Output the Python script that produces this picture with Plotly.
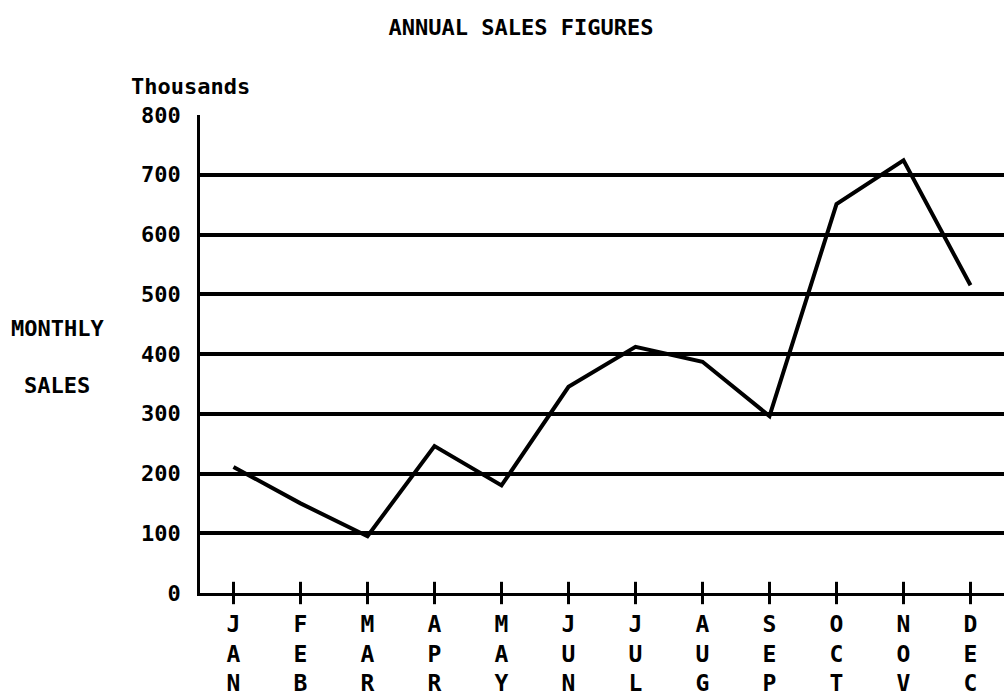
import plotly.graph_objects as go

months = ["JAN", "FEB", "MAR", "APR", "MAY", "JUN", "JUL", "AUG", "SEP", "OCT", "NOV", "DEC"]
sales = [211, 150, 95, 246, 180, 345, 412, 387, 296, 651, 724, 515]
baseline = [0] * len(months)
y_ticks = [0, 100, 200, 300, 400, 500, 600, 700, 800]

month_labels = ["<br>".join(list(m)) for m in months]
FONT = "DejaVu Sans Mono, Liberation Mono, monospace"

fig = go.Figure()
fig.add_trace(go.Scatter(
    x=list(range(len(months))), y=sales, mode="lines",
    line=dict(color="black", width=4), showlegend=False, hoverinfo="skip"))
fig.add_trace(go.Scatter(
    x=list(range(len(months))), y=baseline, mode="markers",
    marker=dict(symbol="line-ns", size=16, line=dict(color="black", width=3)),
    cliponaxis=False, showlegend=False, hoverinfo="skip"))

fig.update_layout(
    width=1004, height=695,
    margin=dict(l=200, r=0, t=115, b=102),
    paper_bgcolor="white", plot_bgcolor="white",
    font=dict(family=FONT, size=22, color="black", weight=700),
    title=dict(text="ANNUAL SALES FIGURES", x=521 / 1004, xanchor="center",
               y=1 - 27 / 695, yanchor="middle", xref="container", yref="container",
               font=dict(family=FONT, size=22, color="black", weight=700)),
    xaxis=dict(
        range=[-0.5, 11.5], tickmode="array", tickvals=list(range(len(months))),
        ticktext=month_labels, showgrid=False, zeroline=False,
        showline=True, linecolor="black", linewidth=3,
        ticks="outside", ticklen=8, tickwidth=3, tickcolor="black",
        tickfont=dict(family=FONT, size=23, weight=700), tickangle=0, fixedrange=True),
    yaxis=dict(
        range=[0, 800], tickmode="array", tickvals=y_ticks,
        ticktext=[str(v) for v in y_ticks],
        showgrid=True, gridcolor="black", gridwidth=3.5, zeroline=False,
        showline=True, linecolor="black", linewidth=2.5,
        ticks="", ticklabelstandoff=12,
        tickfont=dict(family=FONT, size=22, weight=700), fixedrange=True),
    annotations=[
        dict(text="Thousands", xref="paper", yref="paper", x=-10 / 804, y=1 + 28 / 478,
             xanchor="center", yanchor="middle", showarrow=False,
             font=dict(family=FONT, size=22, weight=700)),
        dict(text="MONTHLY", xref="paper", yref="paper", x=-143 / 804, y=(593 - 328) / 478,
             xanchor="center", yanchor="middle", showarrow=False,
             font=dict(family=FONT, size=22, weight=700)),
        dict(text="SALES", xref="paper", yref="paper", x=-143 / 804, y=(593 - 385) / 478,
             xanchor="center", yanchor="middle", showarrow=False,
             font=dict(family=FONT, size=22, weight=700)),
    ],
)

fig.write_html(
    "out.html",
    config={"displayModeBar": False},
    post_script="document.body.style.margin='0';document.body.style.overflow='hidden';",
)
